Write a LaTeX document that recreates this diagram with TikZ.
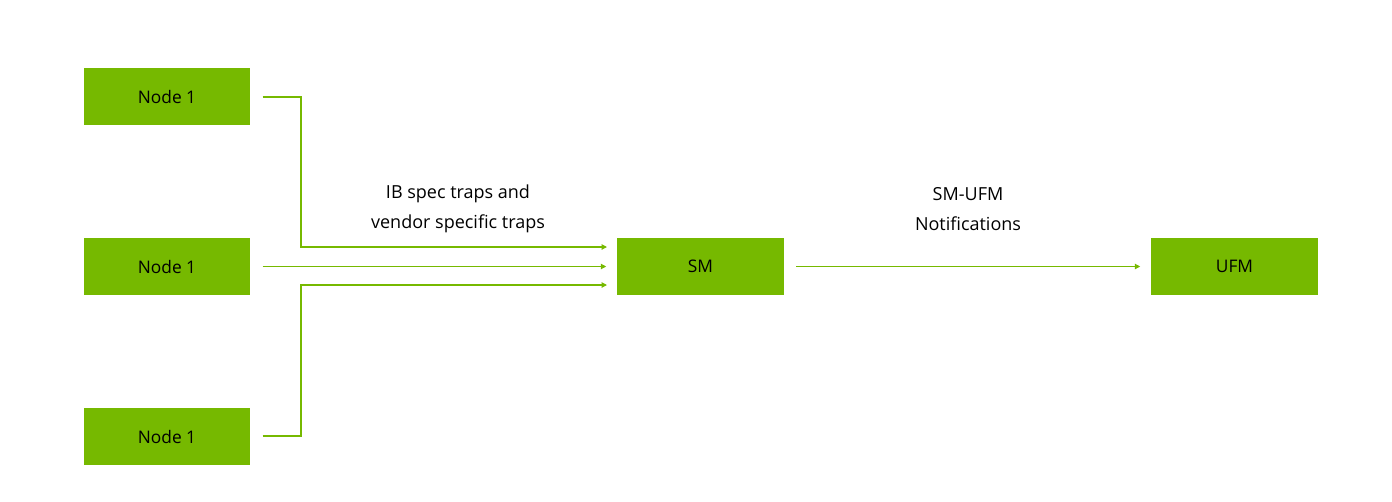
\documentclass[tikz,border=0pt]{standalone}
\usepackage{fontspec}
\setmainfont{Open Sans}
\usetikzlibrary{arrows.meta}
\definecolor{nvg}{HTML}{76B900}
\begin{document}
\begin{tikzpicture}[x=0.75pt,y=-0.75pt,
  box/.style={fill=nvg,minimum width=125pt,minimum height=43pt,inner sep=0pt,font=\fontsize{13}{15}\selectfont},
  conn/.style={draw=nvg,line width=0.8pt,-{Triangle[length=4pt,width=4pt]}},
  lbl/.style={align=center,font=\fontsize{13.5}{22.5}\selectfont}]
\useasboundingbox (0,0) rectangle (1392,501);
\node[box] (n1) at (167,96.5) {Node 1};
\node[box] (n2) at (167,266.5) {Node 1};
\node[box] (n3) at (167,436.5) {Node 1};
\node[box] (sm) at (700.5,266.5) {SM};
\node[box] (ufm) at (1234.5,266.5) {UFM};
\coordinate (t1) at (301,97);
\coordinate (t3) at (301,436);
\coordinate (a1) at (607,247);
\coordinate (a3) at (607,285);
\draw[conn] ([xshift=9pt]n1.east|-t1) -- (t1) |- (a1);
\draw[conn] ([xshift=9pt]n2.east) -- ([xshift=-8pt]sm.west);
\draw[conn] ([xshift=9pt]n3.east|-t3) -- (t3) |- (a3);
\draw[conn] ([xshift=9pt]sm.east) -- ([xshift=-8pt]ufm.west);
\node[lbl] (l1) at (458,209) {IB spec traps and\\vendor specific traps};
\node[lbl] (l2) at (968,209) {SM-UFM\\Notifications};
\end{tikzpicture}
\end{document}
